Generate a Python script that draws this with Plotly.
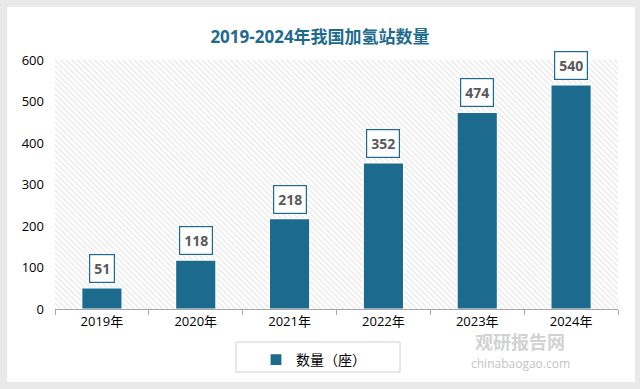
import plotly.graph_objects as go

categories = ["2019年", "2020年", "2021年", "2022年", "2023年", "2024年"]
values = [51, 118, 218, 352, 474, 540]
series_name = "数量（座）"
title_text = "2019-2024年我国加氢站数量"
y_max = 600

BAR = "#1c6b8f"
FONT = "Open Sans, Noto Sans CJK SC, sans-serif"

fig = go.Figure()

# hatched plot background spanning all categories
fig.add_trace(go.Bar(
    x=[categories[0]], y=[y_max], width=[len(categories)], offset=[-0.5],
    marker=dict(color="white", line=dict(width=0),
                pattern=dict(shape="\\", fgcolor="#cdcdcd", bgcolor="white",
                             size=4, solidity=0.3)),
    showlegend=False, hoverinfo="skip"))

fig.add_trace(go.Bar(
    x=categories, y=values, name=series_name, width=0.43,
    marker=dict(color=BAR, line=dict(color="white", width=1.2))))

for c, v in zip(categories, values):
    fig.add_annotation(
        x=c, y=v, xref="x", yref="y", text=f"<b>{v}</b>", showarrow=False,
        yanchor="bottom", yshift=5, font=dict(size=14, color="#595959", family=FONT),
        bgcolor="white", bordercolor=BAR, borderwidth=1.2, borderpad=4)

# card
fig.add_shape(type="rect", xref="paper", yref="paper", x0=-0.085, x1=1.03,
              y0=-0.293, y1=1.213, fillcolor="white", line=dict(width=0), layer="below")
# legend box
fig.add_shape(type="rect", xref="paper", yref="paper", x0=(236-55)/563, x1=(400-55)/563,
              y0=-(372-309)/249, y1=-(342-309)/249, fillcolor="white",
              line=dict(color="#d0d0d0", width=1), layer="below")

fig.add_annotation(xref="paper", yref="paper", x=(520-55)/563, y=-(328-309)/249,
                   text="<b>观研报告网</b>", showarrow=False,
                   font=dict(size=18, color="#d2d2d2", family=FONT),
                   xanchor="center", yanchor="top")
fig.add_annotation(xref="paper", yref="paper", x=(520-55)/563, y=-(353-309)/249,
                   text="chinabaogao.com", showarrow=False,
                   font=dict(size=12, color="#c4c4c4", family=FONT),
                   xanchor="center", yanchor="top")

fig.update_layout(
    width=640, height=389,
    margin=dict(l=55, r=22, t=60, b=80),
    paper_bgcolor="#e9e9e9", plot_bgcolor="rgba(0,0,0,0)",
    barmode="overlay",
    title=dict(text=f"<b>{title_text}</b>", x=0.5, xanchor="center", y=0.905, yanchor="middle",
               font=dict(size=17, color="#1f6b8e", family=FONT)),
    xaxis=dict(showgrid=False, showline=True, linecolor="#a6a6a6", linewidth=1,
               ticks="outside", tickson="boundaries", ticklen=5, tickcolor="#a6a6a6",
               tickfont=dict(size=13, color="#000000", family=FONT), zeroline=False,
               range=[-0.5, len(categories) - 0.5]),
    yaxis=dict(range=[0, y_max], dtick=100, showgrid=False, zeroline=False, showline=False,
               tickfont=dict(size=13, color="#000000", family=FONT), ticks="",
               ticklabelstandoff=10),
    legend=dict(orientation="h", x=(256-55)/563, y=-(344-309)/249, xanchor="left", yanchor="top",
                bgcolor="rgba(0,0,0,0)", borderwidth=0,
                font=dict(size=14, color="#000000", family=FONT),
                itemwidth=30),
    showlegend=True,
)

fig.write_html("out.html", config={"displayModeBar": False},
               post_script="document.body.style.margin='0';")
